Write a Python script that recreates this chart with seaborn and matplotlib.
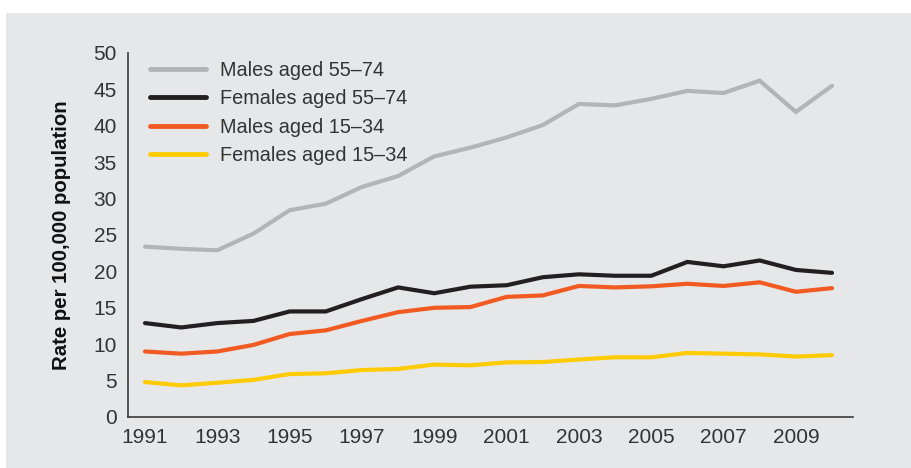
import pandas as pd
import seaborn as sns
import matplotlib.pyplot as plt
from matplotlib.patches import Rectangle

# Data
years = list(range(1991, 2011))
males_55_74 = [23.4, 23.1, 22.9, 25.2, 28.4, 29.3, 31.6, 33.1, 35.8, 37.0,
               38.4, 40.1, 43.0, 42.8, 43.7, 44.8, 44.5, 46.2, 41.9, 45.5]
females_55_74 = [12.9, 12.3, 12.9, 13.2, 14.5, 14.5, 16.2, 17.8, 17.0, 17.9,
                 18.1, 19.2, 19.6, 19.4, 19.4, 21.3, 20.7, 21.5, 20.2, 19.8]
males_15_34 = [9.0, 8.7, 9.0, 9.9, 11.4, 11.9, 13.2, 14.4, 15.0, 15.1,
               16.5, 16.7, 18.0, 17.8, 17.95, 18.3, 18.0, 18.5, 17.2, 17.7]
females_15_34 = [4.8, 4.35, 4.7, 5.1, 5.9, 6.0, 6.45, 6.6, 7.2, 7.1,
                 7.5, 7.55, 7.9, 8.2, 8.2, 8.8, 8.7, 8.6, 8.3, 8.5]
series_names = ['Males aged 55\u201374', 'Females aged 55\u201374',
                'Males aged 15\u201334', 'Females aged 15\u201334']
series_colors = ['#b3b4b6', '#231f20', '#f15a22', '#ffcb05']
x_ticks = list(range(1991, 2010, 2))
y_ticks = list(range(0, 51, 5))

df = pd.DataFrame({
    'year': years * 4,
    'rate': males_55_74 + females_55_74 + males_15_34 + females_15_34,
    'series': [s for s in series_names for _ in years],
})

sns.set_style('white')
plt.rcParams['font.family'] = ['Liberation Sans', 'DejaVu Sans']
text_color = '#333333'
bg = '#e6e7e8'

W, H = 911, 468
fig = plt.figure(figsize=(W / 100, H / 100), dpi=100, facecolor='white')
fig.patches.append(Rectangle((6 / W, 0), 1 - 6 / W, (H - 13) / H,
                             transform=fig.transFigure, facecolor=bg,
                             edgecolor='none', zorder=-1))

ax = fig.add_axes([128 / W, (H - 417) / H, (853 - 128) / W, (417 - 53) / H])
ax.set_facecolor(bg)
ax.patch.set_alpha(0)

sns.lineplot(data=df, x='year', y='rate', hue='series', hue_order=series_names,
             palette=series_colors, linewidth=3.0, ax=ax,
             solid_capstyle='round', solid_joinstyle='miter')

ax.set_xlim(1990.53, 2010.58)
ax.set_ylim(0, 50)
ax.set_xticks(x_ticks)
ax.set_yticks(y_ticks)
ax.tick_params(axis='both', length=0, labelsize=15, labelcolor=text_color)
ax.tick_params(axis='x', pad=8)
ax.tick_params(axis='y', pad=8)
ax.set_xlabel('')
ax.set_ylabel('Rate per 100,000 population', fontsize=14.7, fontweight='bold',
              color='#111111', labelpad=16)

for side in ['top', 'right']:
    ax.spines[side].set_visible(False)
for side in ['left', 'bottom']:
    ax.spines[side].set_color('#3a3a3a')
    ax.spines[side].set_linewidth(1.2)

leg = ax.legend(loc='upper left', bbox_to_anchor=(0.02, 1.0), frameon=False,
                fontsize=14.3, handlelength=2.8, handletextpad=0.7,
                labelspacing=0.47, borderaxespad=0)
for t in leg.get_texts():
    t.set_color(text_color)
for h in leg.get_lines():
    h.set_linewidth(3.5)
    h.set_solid_capstyle('round')

fig.savefig('out.png', dpi=100, facecolor='white')
